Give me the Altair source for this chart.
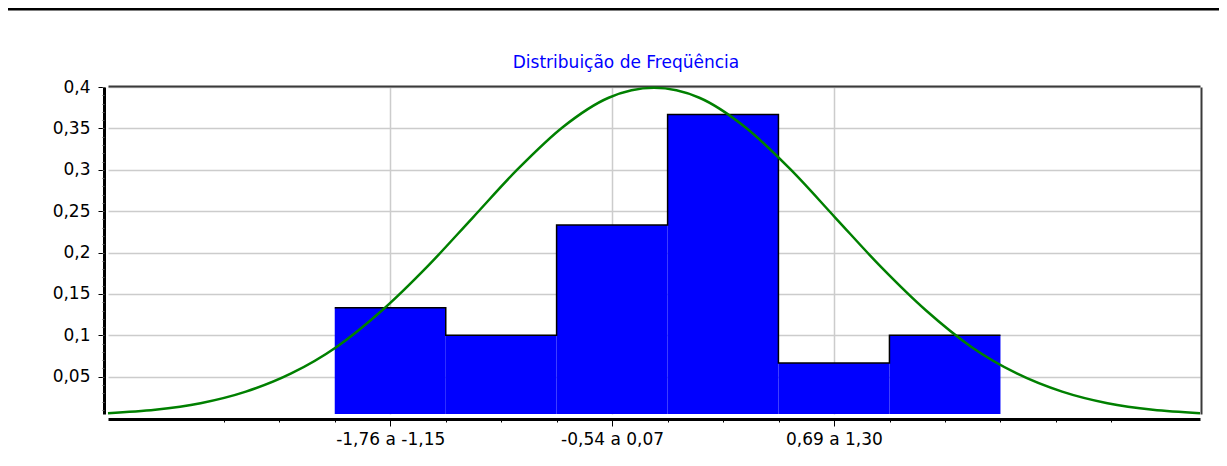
import altair as alt
import pandas as pd

# ---- data ----
bin_edges = [-1.760, -1.148, -0.537, 0.075, 0.686, 1.298, 1.910]
bin_freq = [0.1333, 0.1000, 0.2333, 0.3667, 0.0667, 0.1000]
bar_base = 0.005

x_labels = ["-1,76 a -1,15", "-0,54 a 0,07", "0,69 a 1,30"]
x_label_bins = [0, 2, 4]

curve_x = [-3.01, -2.75, -2.5, -2.25, -2.0, -1.75, -1.5, -1.25, -1.0, -0.75, -0.5, -0.25, 0.0,
           0.25, 0.5, 0.75, 1.0, 1.25, 1.5, 1.75, 2.0, 2.25, 2.5, 2.75, 3.01]
curve_y = [0.006, 0.010, 0.018, 0.032, 0.054, 0.086, 0.130, 0.183, 0.242, 0.301, 0.352, 0.387, 0.399,
           0.387, 0.352, 0.301, 0.242, 0.183, 0.130, 0.086, 0.054, 0.032, 0.018, 0.010, 0.006]

y_major_ticks = [0.05, 0.1, 0.15, 0.2, 0.25, 0.3, 0.35, 0.4]
y_minor_ticks = [round(0.01 * i, 2) for i in range(1, 41)]

x_domain = [-3.01, 3.01]
y_domain = [0.005, 0.4]

title_text = "Distribuição de Freqüência"

# ---- tables ----
bars_df = pd.DataFrame({
    "start": bin_edges[:-1],
    "end": bin_edges[1:],
    "freq": bin_freq,
    "base": [bar_base] * len(bin_freq),
})
step_df = pd.DataFrame({"x": bin_edges, "y": bin_freq + [bin_freq[-1]]})
curve_df = pd.DataFrame({"x": curve_x, "y": curve_y})

w = (bin_edges[-1] - bin_edges[0]) / len(bin_freq)
centers = [(bin_edges[i] + bin_edges[i + 1]) / 2 for i in x_label_bins]
minor_x = [bin_edges[0] - w + k * w / 2 for k in range(0, 2 * (len(bin_freq) + 2) + 1)]
t1 = (centers[0] + centers[1]) / 2
t2 = (centers[1] + centers[2]) / 2
x_label_expr = (f"datum.value < {t1} ? '{x_labels[0]}' : "
                f"datum.value < {t2} ? '{x_labels[1]}' : '{x_labels[2]}'")

FONT = "DejaVu Sans"
xs = alt.Scale(domain=x_domain, nice=False, zero=False)
ys = alt.Scale(domain=y_domain, nice=False, zero=False)

ax_x_major = alt.Axis(orient="bottom", values=centers, labelExpr=x_label_expr, tickSize=7,
                      tickColor="#000000", tickWidth=1, domain=True, domainColor="#000000",
                      domainWidth=3, offset=5, grid=True, gridColor="#cccccc", gridWidth=1.5,
                      labelFont=FONT, labelFontSize=17, labelColor="#000000", labelPadding=5,
                      labelFlush=False, labelOverlap=False, title=None, zindex=0)
ax_y_major = alt.Axis(orient="left", values=y_major_ticks,
                      labelExpr="replace(format(datum.value, '.2~f'), '.', ',')",
                      tickSize=6, tickColor="#000000", tickWidth=1, domain=True,
                      domainColor="#000000", domainWidth=3, offset=4, grid=True,
                      gridColor="#cccccc", gridWidth=1.5, labelFont=FONT, labelFontSize=17,
                      labelColor="#000000", labelPadding=8, labelFlush=False,
                      labelOverlap=False, title=None, zindex=0)
ax_x_minor = alt.Axis(orient="bottom", values=minor_x, labels=False, tickSize=3,
                      tickColor="#000000", tickWidth=1, domain=False, grid=False, offset=5,
                      title=None)
ax_y_minor = alt.Axis(orient="left", values=y_minor_ticks, labels=False, tickSize=2,
                      tickColor="#555555", tickWidth=1, domain=False, grid=False, offset=4,
                      title=None)
ax_x_top = alt.Axis(orient="top", labels=False, ticks=False, grid=False, domain=True,
                    domainColor="#3a3a3a", domainWidth=2, offset=1, title=None)
ax_y_right = alt.Axis(orient="right", labels=False, ticks=False, grid=False, domain=True,
                      domainColor="#3a3a3a", domainWidth=2, offset=1, title=None)

bars = alt.Chart(bars_df).mark_rect(fill="#0000ff").encode(
    x=alt.X("start:Q", scale=xs, axis=ax_x_major),
    x2="end:Q",
    y=alt.Y("base:Q", scale=ys, axis=ax_y_major),
    y2="freq:Q",
)

outline = alt.Chart(step_df).mark_line(color="#000000", strokeWidth=1.5,
                                       interpolate="step-after").encode(
    x=alt.X("x:Q", scale=xs, axis=ax_x_minor),
    y=alt.Y("y:Q", scale=ys, axis=ax_y_minor),
)

curve = alt.Chart(curve_df).mark_line(color="#008000", strokeWidth=2.5,
                                      interpolate="monotone").encode(
    x=alt.X("x:Q", scale=xs, axis=ax_x_top),
    y=alt.Y("y:Q", scale=ys, axis=ax_y_right),
)

top_rule = alt.Chart(pd.DataFrame({"a": [0]})).mark_rule(color="#000000", strokeWidth=2.5).encode(
    x=alt.value(-103), x2=alt.value(1119), y=alt.value(-77.75)
)

chart = alt.layer(bars, outline, curve, top_rule).resolve_axis(
    x="independent", y="independent"
).properties(
    width=1092,
    height=327,
    autosize=alt.AutoSizeParams(type="none"),
    padding={"left": 100, "top": 79, "right": 19, "bottom": 36},
    title=alt.TitleParams(text=title_text, color="#0000ff", font=FONT, fontSize=17,
                          fontWeight="normal", anchor="middle", dx=-28, offset=0, dy=64),
).configure_view(strokeWidth=0)

chart.save("out.html", embed_options={"renderer": "svg", "actions": False})
